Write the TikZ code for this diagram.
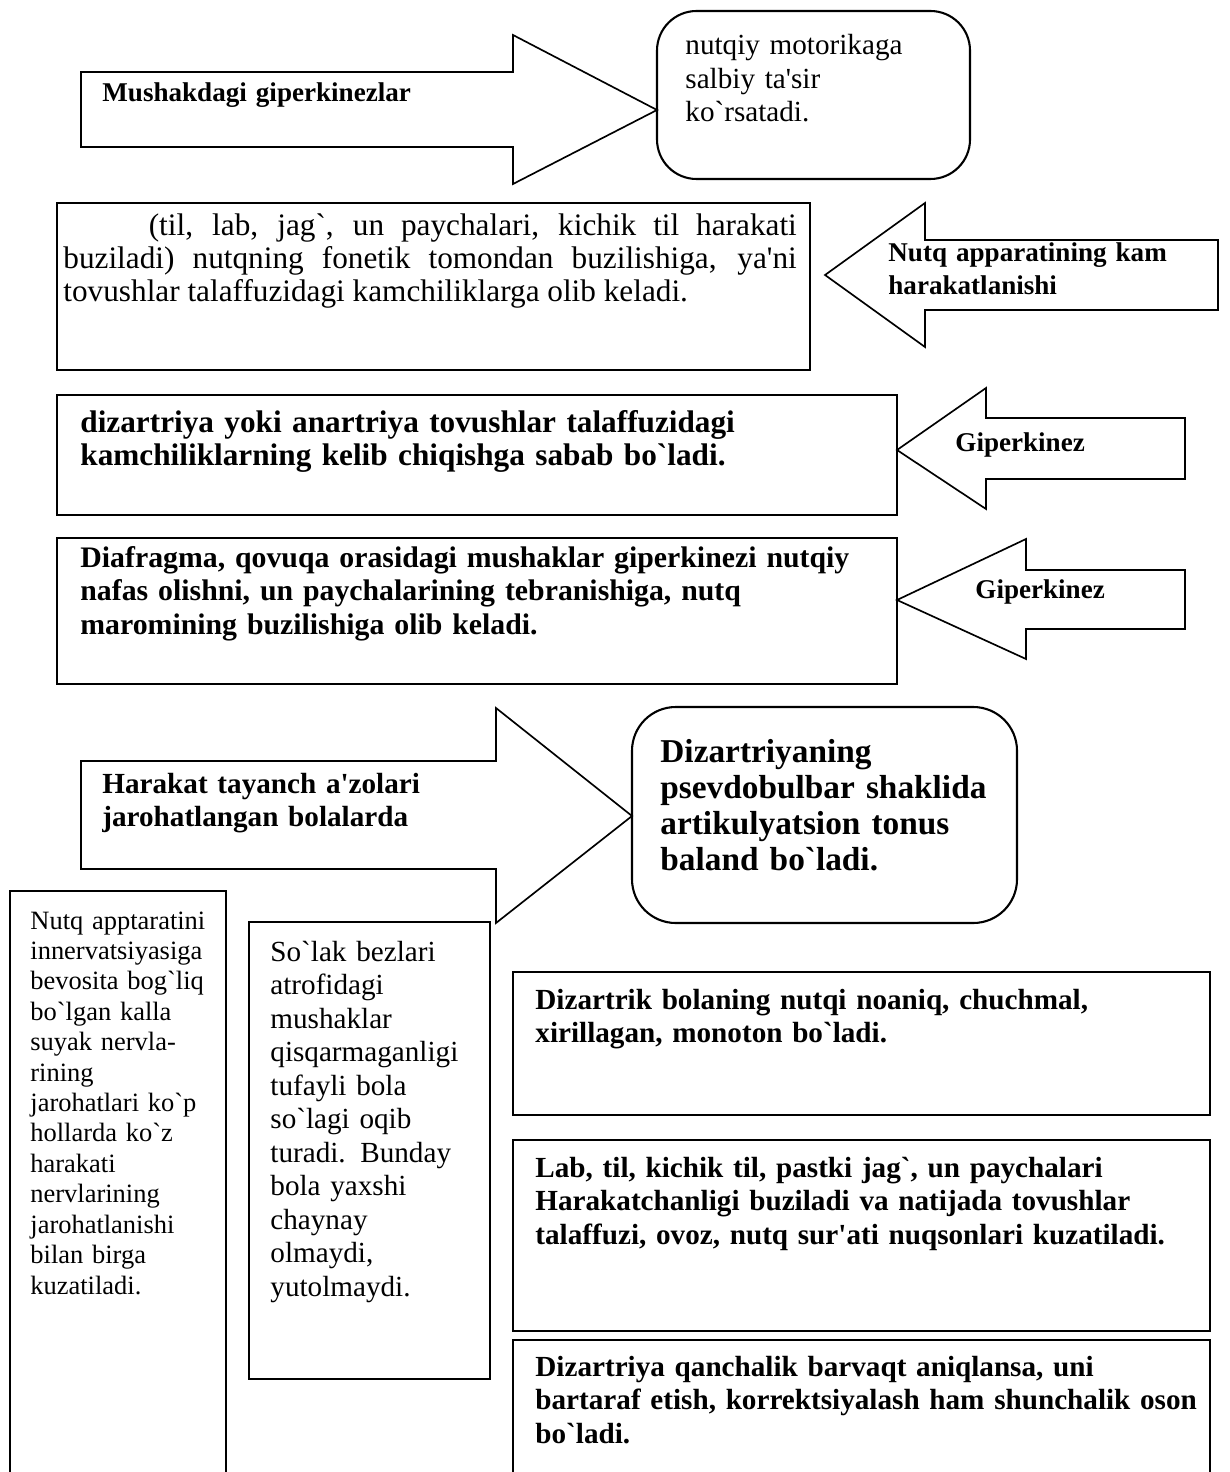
\documentclass[tikz,border=0pt]{standalone}
\usepackage{fontspec}
\setmainfont{Liberation Serif}[Ligatures=TeXOff]
\newcommand{\fsize}[2]{\fontsize{#1}{#2}\selectfont}

\begin{document}
\begin{tikzpicture}[x=0.48pt,y=-0.48pt,
    frame/.style={line width=1pt},
    blockarrow/.style={line width=0.8pt},
    txt/.style={anchor=base west,inner sep=0pt,align=left,text width=380pt}]
    \useasboundingbox (0,0) rectangle (1229,1472);
    \clip (0,0) rectangle (1229,1472);

    % Draw the first arrow and the rounded box it points to
    \draw[blockarrow] (81,72) -- (513,72) -- (513,35) -- (657,110) -- (513,184) -- (513,147) -- (81,147) -- cycle;
    \node[txt,font=\fsize{13}{15.7}\bfseries] (mush) at (102,102) {Mushakdagi giperkinezlar};
    \draw[frame,rounded corners=19pt] (657,11) rectangle (970,179);
    \node[txt,font=\fsize{14}{16}] (motor) at (685,55) {nutqiy motorikaga\\salbiy ta'sir\\ko`rsatadi.};

    % Draw the box on the left and the arrow pointing back to it
    \draw[frame] (57,203) rectangle (810,370);
    \node[txt,align=justify,text width=352pt,font=\fsize{15}{15.8}] (fonetik) at (63,236)
        {\hspace*{41pt}(til, lab, jag`, un paychalari, kichik til harakati\linebreak
         buziladi) nutqning fonetik tomondan buzilishiga, ya'ni\linebreak
         tovushlar talaffuzidagi kamchiliklarga olib keladi.};
    \draw[blockarrow] (825,275) -- (925,203) -- (925,240) -- (1218,240) -- (1218,310) -- (925,310) -- (925,347) -- cycle;
    \node[txt,font=\fsize{13}{15.7}\bfseries] (apparat) at (888,262) {Nutq apparatining kam\\harakatlanishi};

    % Draw the two Giperkinez rows
    \draw[frame] (57,395) rectangle (897,515);
    \node[txt,font=\fsize{15}{15.8}\bfseries] (dizan) at (80,433)
        {dizartriya yoki anartriya tovushlar talaffuzidagi\\kamchiliklarning kelib chiqishga sabab bo`ladi.};
    \draw[blockarrow] (897,450) -- (986,388) -- (986,418) -- (1185,418) -- (1185,479) -- (986,479) -- (986,509) -- cycle;
    \node[txt,font=\fsize{13}{15.7}\bfseries] (giperA) at (955,452) {Giperkinez};

    \draw[frame] (57,538) rectangle (897,684);
    \node[txt,font=\fsize{14.3}{16.3}\bfseries] (diafr) at (80,567)
        {Diafragma, qovuqa orasidagi mushaklar giperkinezi nutqiy\\nafas olishni, un paychalarining tebranishiga, nutq\\maromining buzilishiga olib keladi.};
    \draw[blockarrow] (897,600) -- (1026,539) -- (1026,570) -- (1185,570) -- (1185,629) -- (1026,629) -- (1026,659) -- cycle;
    \node[txt,font=\fsize{13}{15.7}\bfseries] (giperB) at (975,598) {Giperkinez};

    % Draw the lower arrow and its rounded box
    \draw[blockarrow] (81,761) -- (496,761) -- (496,708) -- (632,816) -- (496,923) -- (496,869) -- (81,869) -- cycle;
    \node[txt,font=\fsize{14}{16.3}\bfseries] (harakat) at (102,793) {Harakat tayanch a'zolari\\jarohatlangan bolalarda};
    \draw[frame,rounded corners=21pt] (632,707) rectangle (1017,923);
    \node[txt,font=\fsize{16}{17.3}\bfseries] (psevdo) at (660,762)
        {Dizartriyaning\\psevdobulbar shaklida\\artikulyatsion tonus\\baland bo`ladi.};

    % Draw the two tall boxes
    \draw[frame] (10,891) rectangle (226,1500);
    \node[txt,font=\fsize{12.7}{14.6}] (innerv) at (30,929)
        {Nutq apptaratini\\innervatsiyasiga\\bevosita bog`liq\\bo`lgan kalla\\suyak nervla-\\rining\\jarohatlari ko`p\\hollarda ko`z\\harakati\\nervlarining\\jarohatlanishi\\bilan birga\\kuzatiladi.};
    \draw[frame] (249,922) rectangle (490,1379);
    \node[txt,font=\fsize{14}{16.1}] (solak) at (270,961)
        {So`lak bezlari\\atrofidagi\\mushaklar\\qisqarmaganligi\\tufayli bola\\so`lagi oqib\\turadi. Bunday\\bola yaxshi\\chaynay\\olmaydi,\\yutolmaydi.};

    % Draw the boxes on the lower right
    \draw[frame] (513,972) rectangle (1210,1115);
    \node[txt,font=\fsize{14}{16.2}\bfseries] (dizartrik) at (535,1009)
        {Dizartrik bolaning nutqi noaniq, chuchmal,\\xirillagan, monoton bo`ladi.};
    \draw[frame] (513,1140) rectangle (1210,1331);
    \node[txt,font=\fsize{14}{16.2}\bfseries] (lab) at (535,1177)
        {Lab, til, kichik til, pastki jag`, un paychalari\\Harakatchanligi buziladi va natijada tovushlar\\talaffuzi, ovoz, nutq sur'ati nuqsonlari kuzatiladi.};
    \draw[frame] (513,1340) rectangle (1210,1500);
    \node[txt,font=\fsize{14}{16.2}\bfseries] (barvaqt) at (535,1376)
        {Dizartriya qanchalik barvaqt aniqlansa, uni\\bartaraf etish, korrektsiyalash ham shunchalik oson\\bo`ladi.};
\end{tikzpicture}
\end{document}
